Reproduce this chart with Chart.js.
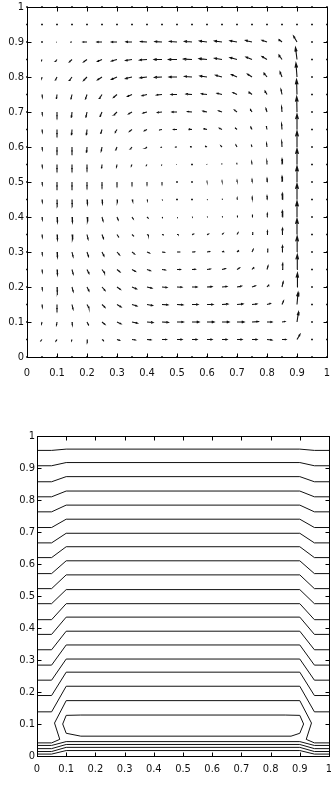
<!DOCTYPE html>
<html><head><meta charset="utf-8">
<script src="https://cdn.jsdelivr.net/npm/chart.js@4.4.0/dist/chart.umd.min.js"></script>
<style>
html,body{margin:0;padding:0;background:#fff;overflow:hidden;}
canvas{position:absolute;left:0;}
#c1{top:0;}
#c2{top:395px;}
</style></head><body>
<canvas id="c1" width="331" height="385" style="width:331px;height:385px"></canvas>
<canvas id="c2" width="331" height="391" style="width:331px;height:391px"></canvas>
<script>
// ---------- axis ticks ----------
const TICKS = [0,0.1,0.2,0.3,0.4,0.5,0.6,0.7,0.8,0.9,1];
const TICK_LABELS = ['0','0.1','0.2','0.3','0.4','0.5','0.6','0.7','0.8','0.9','1'];

// ---------- quiver grid (boundary points carry zero vectors) ----------
const GX = [0,0.05,0.1,0.15,0.2,0.25,0.3,0.35,0.4,0.45,0.5,0.55,0.6,0.65,0.7,0.75,0.8,0.85,0.9,0.95,1];
const GY = [0,0.05,0.1,0.15,0.2,0.25,0.3,0.35,0.4,0.45,0.5,0.55,0.6,0.65,0.7,0.75,0.8,0.85,0.9,0.95,1];
// interior velocity components, rows y=0.05 .. 0.95, columns x=0.05 .. 0.95
const U = [
 [-0.07,-0.07,-0.03,0.02,0.1,0.17,0.23,0.27,0.3,0.33,0.33,0.33,0.33,0.33,0.33,0.33,0.27,0.2,0],
 [-0.03,-0.03,0.02,0.1,0.2,0.27,0.37,0.4,0.43,0.43,0.47,0.47,0.47,0.47,0.43,0.33,0.2,0.1,0],
 [0.02,0,0.07,0.13,0.2,0.27,0.33,0.37,0.4,0.4,0.4,0.4,0.4,0.4,0.33,0.23,0.1,0.07,0],
 [0.02,0.02,0.08,0.13,0.2,0.23,0.3,0.33,0.33,0.33,0.33,0.33,0.33,0.3,0.23,0.13,0.08,0.03,0],
 [0.02,0.03,0.08,0.13,0.17,0.2,0.23,0.23,0.23,0.23,0.23,0.23,0.23,0.17,0.13,0.07,0.05,0.02,0],
 [0.02,0.03,0.07,0.1,0.13,0.17,0.17,0.17,0.17,0.17,0.17,0.17,0.13,0.12,0.08,0.05,0.03,0.01,0],
 [0.02,0.03,0.05,0.07,0.1,0.13,0.13,0.12,0.1,0.1,0.1,0.1,0.08,0.07,0.05,0.03,0.03,0,0],
 [0.02,0.03,0.03,0.05,0.07,0.08,0.08,0.07,0.03,0.03,0.03,0.03,0.03,0.03,0.03,0.02,0.02,0,0],
 [0.02,0.01,0.01,0.03,0.03,0.03,0.05,0.03,0.02,0,0,0.02,0.02,0.01,0.01,0,0.02,0,0],
 [0.02,0,0,0,0,0,0,0,0,0,0,0,0,0,0,0,0,0,0],
 [0.02,0,0,0,-0.02,-0.03,-0.05,-0.05,-0.03,-0.02,0,-0.02,-0.02,-0.02,-0.02,-0.01,0,0,0],
 [0.02,0,0,-0.02,-0.05,-0.08,-0.1,-0.1,-0.1,-0.13,-0.1,-0.1,-0.08,-0.07,-0.05,-0.03,-0.02,0,0],
 [0.02,0,-0.02,-0.03,-0.08,-0.13,-0.17,-0.17,-0.2,-0.23,-0.2,-0.2,-0.17,-0.13,-0.08,-0.05,-0.03,0,0],
 [0.02,0,-0.03,-0.07,-0.13,-0.2,-0.23,-0.27,-0.3,-0.33,-0.3,-0.27,-0.23,-0.17,-0.1,-0.07,-0.03,-0.02,0],
 [0.02,-0.03,-0.07,-0.1,-0.17,-0.23,-0.3,-0.33,-0.37,-0.4,-0.4,-0.37,-0.33,-0.27,-0.2,-0.13,-0.07,-0.03,0],
 [-0.02,-0.1,-0.17,-0.23,-0.3,-0.37,-0.43,-0.47,-0.5,-0.53,-0.5,-0.47,-0.43,-0.37,-0.3,-0.2,-0.13,-0.07,0],
 [-0.03,-0.1,-0.17,-0.23,-0.3,-0.37,-0.43,-0.5,-0.53,-0.57,-0.57,-0.53,-0.5,-0.47,-0.4,-0.33,-0.2,-0.1,0],
 [0,-0.03,-0.1,-0.27,-0.33,-0.37,-0.4,-0.43,-0.47,-0.5,-0.5,-0.5,-0.5,-0.47,-0.43,-0.33,-0.2,-0.23,0],
 [0,0,0,0,0,0,0,0,0,0,0,0,0,0,0,0,0,0,0]
];
const V = [
 [-0.07,-0.09,-0.07,-0.06,-0.06,-0.05,-0.03,-0.02,0,0,0,0,0,0,0,-0.03,0,0.29,0],
 [-0.11,-0.17,-0.17,-0.17,-0.14,-0.11,-0.07,-0.03,-0.02,0,0,0,0,0,0.02,0,0.03,0.57,0],
 [-0.14,-0.29,-0.26,-0.2,-0.17,-0.14,-0.09,-0.06,-0.02,-0.02,0,0,0.02,0.03,0.03,0.06,0.2,0.69,0],
 [-0.14,-0.29,-0.26,-0.23,-0.2,-0.14,-0.11,-0.07,-0.03,-0.01,0,0.02,0.03,0.05,0.07,0.14,0.29,0.8,0],
 [-0.14,-0.29,-0.26,-0.23,-0.2,-0.14,-0.11,-0.07,-0.03,0,0.01,0.03,0.05,0.09,0.14,0.2,0.34,0.86,0],
 [-0.14,-0.29,-0.26,-0.26,-0.23,-0.17,-0.11,-0.06,-0.02,0,0.01,0.03,0.06,0.1,0.14,0.2,0.34,0.91,0],
 [-0.14,-0.29,-0.29,-0.26,-0.23,-0.17,-0.11,-0.06,-0.02,0,0.02,0.03,0.06,0.1,0.14,0.2,0.34,0.91,0],
 [-0.14,-0.29,-0.29,-0.26,-0.23,-0.17,-0.11,-0.06,-0.03,0,0.01,0.03,0.05,0.09,0.14,0.2,0.34,0.91,0],
 [-0.14,-0.29,-0.29,-0.26,-0.23,-0.17,-0.11,-0.06,-0.02,0,0,0.02,0.05,0.09,0.14,0.2,0.34,0.91,0],
 [-0.14,-0.29,-0.29,-0.26,-0.23,-0.14,-0.09,-0.06,-0.03,0,0,0.02,0.05,0.09,0.14,0.2,0.31,0.91,0],
 [-0.14,-0.29,-0.29,-0.26,-0.2,-0.14,-0.09,-0.06,-0.03,0,0,0.03,0.06,0.1,0.14,0.2,0.31,0.91,0],
 [-0.14,-0.29,-0.29,-0.29,-0.23,-0.17,-0.11,-0.07,-0.03,0,0.02,0.05,0.07,0.11,0.14,0.2,0.31,0.91,0],
 [-0.14,-0.29,-0.29,-0.29,-0.23,-0.17,-0.11,-0.07,-0.03,0,0.02,0.05,0.07,0.11,0.14,0.2,0.31,0.89,0],
 [-0.14,-0.26,-0.29,-0.29,-0.26,-0.17,-0.11,-0.06,-0.03,0,0.02,0.05,0.07,0.11,0.14,0.2,0.29,0.88,0],
 [-0.14,-0.23,-0.26,-0.26,-0.23,-0.17,-0.11,-0.07,-0.03,0,0.02,0.04,0.07,0.11,0.14,0.2,0.29,0.86,0],
 [-0.09,-0.17,-0.2,-0.2,-0.17,-0.14,-0.09,-0.05,-0.02,0,0.03,0.06,0.1,0.14,0.17,0.23,0.29,0.8,0],
 [-0.06,-0.11,-0.14,-0.14,-0.11,-0.09,-0.06,-0.03,0,0,0.02,0.05,0.07,0.11,0.14,0.17,0.26,0.69,0],
 [0,0,0,0,0,0,0.01,0.02,0.02,0.03,0.04,0.06,0.06,0.07,0.09,0.1,0.14,0.34,0],
 [0,0,0,0,0,0,0,0,0,0,0,0,0,0,0,0,0,0,0]
];
const QSCALE = 0.05;   // quiver scale (data units per velocity unit)
const HEAD = 0.33;     // arrowhead size fraction

// ---------- contour panel ----------
const BX = [0, 0.05, 0.1, 0.9, 0.95, 1];            // break columns of the open contours
const EDGE_Y = [0.955,0.907,0.857,0.810,0.763,0.714,0.666,0.620,0.570,0.523,0.476,0.426,0.380,0.332,0.284,0.237,0.189,0.138];
const MID_Y  = [0.959,0.917,0.873,0.828,0.784,0.740,0.696,0.654,0.610,0.566,0.520,0.476,0.434,0.390,0.347,0.303,0.262,0.218];
const BOT_EDGE = [0.033,0.023,0.014,0.006];
const BOT_MID  = [0.045,0.036,0.027,0.017];
const CAP_X = [0, 0.05, 0.078, 0.06, 0.1, 0.9, 0.94, 0.922, 0.95, 1];
const CAP_Y = [0.041,0.041,0.052,0.103,0.173,0.173,0.103,0.052,0.041,0.041];
const LOOP_X = [0.1, 0.15, 0.85, 0.9, 0.913, 0.9, 0.87, 0.15, 0.1, 0.088, 0.1];
const LOOP_Y = [0.127,0.128,0.128,0.127,0.1,0.071,0.062,0.062,0.071,0.1,0.127];

const FONT = "'Liberation Sans Narrow','DejaVu Sans Condensed','Liberation Sans',sans-serif";
const INK = '#111';

// ---------- build quiver data ----------
const arrowPts = [], dotPts = [];
const eps = 1e-9;
for (let j = 0; j < GY.length; j++) {
  for (let i = 0; i < GX.length; i++) {
    const inside = i >= 1 && i <= 19 && j >= 1 && j <= 19;
    const uu = inside ? U[j-1][i-1] * QSCALE : 0;
    const vv = inside ? V[j-1][i-1] * QSCALE : 0;
    const x = GX[i], y = GY[j];
    if (uu === 0 && vv === 0) { dotPts.push({x, y}); continue; }
    const tx = x + uu, ty = y + vv;
    arrowPts.push({x, y}, {x: tx, y: ty}, {x: tx, y: null});
    arrowPts.push(
      {x: tx - HEAD*(uu + HEAD*(vv+eps)), y: ty - HEAD*(vv - HEAD*(uu+eps))},
      {x: tx, y: ty},
      {x: tx - HEAD*(uu - HEAD*(vv+eps)), y: ty - HEAD*(vv + HEAD*(uu+eps))},
      {x: tx, y: null}
    );
  }
}

// ---------- build contour datasets ----------
const contourSets = [];
function addLine(xs, ys) {
  contourSets.push({
    data: xs.map((x, k) => ({x, y: ys[k]})),
    showLine: true, pointRadius: 0, borderColor: INK, borderWidth: 1, tension: 0, clip: false
  });
}
EDGE_Y.forEach((e, k) => { const m = MID_Y[k]; addLine(BX, [e, e, m, m, e, e]); });
BOT_EDGE.forEach((e, k) => { const m = BOT_MID[k]; addLine(BX, [e, e, m, m, e, e]); });
addLine(CAP_X, CAP_Y);
addLine(LOOP_X, LOOP_Y);

// ---------- shared axis config ----------
function axis(isX, size, pad) {
  return {
    type: 'linear', min: 0, max: 1, position: isX ? 'bottom' : 'left',
    afterBuildTicks: s => { s.ticks = TICKS.map(v => ({value: v})); },
    afterFit: s => {
      if (isX) s.height = size; else s.width = size;
      s.paddingLeft = 0; s.paddingRight = 0; s.paddingTop = 0; s.paddingBottom = 0;
    },
    grid: {display: false, drawTicks: false},
    border: {display: false},
    ticks: {
      callback: (v, i) => TICK_LABELS[i],
      font: {family: FONT, size: 11}, color: '#111',
      padding: pad, maxRotation: 0, minRotation: 0, autoSkip: false
    }
  };
}

const framePlugin = {
  id: 'frame',
  afterDraw(chart) {
    const {ctx, chartArea: a, scales: {x, y}} = chart;
    ctx.save();
    ctx.strokeStyle = '#000'; ctx.lineWidth = 1;
    const L = Math.round(a.left) + 0.5, R = Math.round(a.right) + 0.5;
    const T = Math.round(a.top) + 0.5, B = Math.round(a.bottom) + 0.5;
    ctx.strokeRect(L, T, R - L, B - T);
    const tl = 4;
    ctx.beginPath();
    TICKS.forEach(t => {
      const px = Math.round(x.getPixelForValue(t)) + 0.5;
      const py = Math.round(y.getPixelForValue(t)) + 0.5;
      ctx.moveTo(px, B); ctx.lineTo(px, B - tl);
      ctx.moveTo(px, T); ctx.lineTo(px, T + tl);
      ctx.moveTo(L, py); ctx.lineTo(L + tl, py);
      ctx.moveTo(R, py); ctx.lineTo(R - tl, py);
    });
    ctx.stroke();
    ctx.restore();
  }
};

const common = {
  responsive: false, animation: false, devicePixelRatio: 1,
  plugins: {legend: {display: false}, tooltip: {enabled: false}}
};

new Chart(document.getElementById('c1'), {
  type: 'scatter',
  data: {datasets: [
    {data: arrowPts, showLine: true, spanGaps: false, pointRadius: 0, borderColor: INK, borderWidth: 1.1, tension: 0, clip: false},
    {data: dotPts, showLine: false, pointStyle: 'rect', pointRadius: 1.2, borderWidth: 0, backgroundColor: '#000', clip: false}
  ]},
  options: Object.assign({}, common, {
    layout: {padding: {top: 7, right: 4, left: 0, bottom: 0}},
    scales: {x: axis(true, 28, 10), y: axis(false, 27, 3)}
  }),
  plugins: [framePlugin]
});

new Chart(document.getElementById('c2'), {
  type: 'scatter',
  data: {datasets: contourSets},
  options: Object.assign({}, common, {
    layout: {padding: {top: 41, right: 2, left: 0, bottom: 0}},
    scales: {x: axis(true, 30, 7), y: axis(false, 37, 2)}
  }),
  plugins: [framePlugin]
});
</script>
</body></html>
